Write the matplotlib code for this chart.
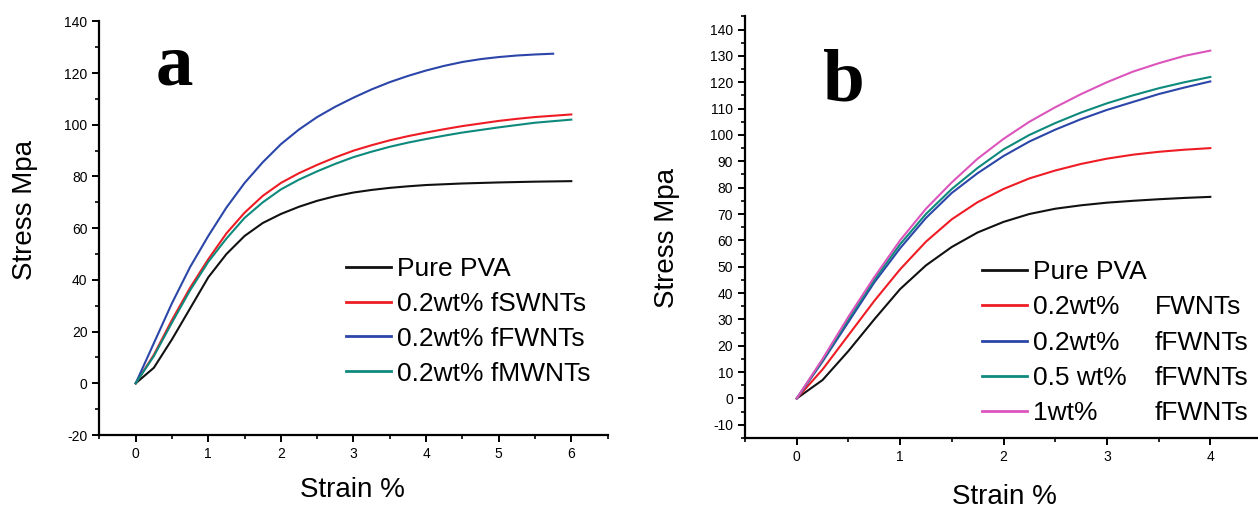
import matplotlib
matplotlib.use("Agg")
import matplotlib.pyplot as plt
from matplotlib.lines import Line2D
from matplotlib.ticker import MultipleLocator

# panel a: strain (%) vs stress (MPa)
strain_a = [0, 0.25, 0.5, 0.75, 1, 1.25, 1.5, 1.75, 2, 2.25, 2.5, 2.75, 3,
            3.25, 3.5, 3.75, 4, 4.25, 4.5, 4.75, 5, 5.25, 5.5, 5.75, 6]
pva_a = [0, 6, 17, 29, 41, 50, 57, 62, 65.5, 68.3, 70.6, 72.4, 73.8,
         74.8, 75.6, 76.2, 76.7, 77, 77.3, 77.5, 77.7, 77.85, 78, 78.1, 78.2]
fswnt_a = [0, 11, 24.5, 37, 48, 58, 66, 72.5, 77.5, 81.3, 84.5, 87.4, 90,
           92.1, 94, 95.6, 97, 98.3, 99.5, 100.5, 101.5, 102.3, 103, 103.5, 104]
fmwnt_a = [0, 10.5, 23.5, 36, 47, 56, 64, 70, 75, 78.8, 82, 84.9, 87.5,
           89.6, 91.5, 93.1, 94.5, 95.8, 97, 98, 99, 99.9, 100.8, 101.4, 102]
strain_a_fw = [0, 0.25, 0.5, 0.75, 1, 1.25, 1.5, 1.75, 2, 2.25, 2.5, 2.75, 3,
               3.25, 3.5, 3.75, 4, 4.25, 4.5, 4.75, 5, 5.25, 5.5, 5.75]
ffwnt_a = [0, 15.5, 31, 45, 57, 68, 77.5, 85.5, 92.5, 98.2, 103, 107, 110.5,
           113.7, 116.5, 118.9, 121, 122.8, 124.3, 125.4, 126.2, 126.8, 127.2, 127.5]

# panel b
strain_b = [0, 0.25, 0.5, 0.75, 1, 1.25, 1.5, 1.75, 2, 2.25, 2.5, 2.75, 3, 3.25, 3.5, 3.75, 4]
pva_b = [0, 7, 18, 30, 41.5, 50.5, 57.5, 63, 67, 70, 72, 73.3, 74.3, 75, 75.6, 76.1, 76.5]
fwnt02_b = [0, 11, 24, 37, 49, 59.5, 68, 74.5, 79.5, 83.5, 86.5, 89, 91, 92.5, 93.6, 94.4, 95]
ffwnt02_b = [0, 14, 29, 44, 57, 68.5, 78, 85.5, 92, 97.5, 102, 106, 109.5, 112.5, 115.5, 118, 120.3]
ffwnt05_b = [0, 14.5, 30, 45, 58.5, 70, 79.5, 87.5, 94.5, 100, 104.5, 108.5, 112, 115, 117.7, 120, 122]
ffwnt1_b = [0, 15, 31, 46, 60, 72, 82, 91, 98.5, 105, 110.5, 115.5, 120, 124, 127.2, 130, 132]

labels_a = ["Pure PVA", "0.2wt% fSWNTs", "0.2wt% fFWNTs", "0.2wt% fMWNTs"]
labels_b_left = ["Pure PVA", "0.2wt%", "0.2wt%", "0.5 wt%", "1wt%"]
labels_b_right = [" ", "FWNTs", "fFWNTs", "fFWNTs", "fFWNTs"]

BLACK = "#111111"
RED = "#ee1c24"
BLUE = "#2b46a8"
TEAL = "#0e8a7c"
PINK = "#dc55bc"

plt.rcParams.update(
    {
        "font.family": ["Liberation Sans", "DejaVu Sans"],
        "axes.unicode_minus": False,
        "axes.linewidth": 1.6,
        "xtick.labelsize": 10,
        "ytick.labelsize": 10,
        "xtick.major.size": 5,
        "ytick.major.size": 5,
        "xtick.minor.size": 3,
        "ytick.minor.size": 3,
        "xtick.major.width": 1.4,
        "ytick.major.width": 1.4,
        "xtick.minor.width": 1.2,
        "ytick.minor.width": 1.2,
    }
)

fig = plt.figure(figsize=(12.58, 5.08), dpi=100)
ax_a = fig.add_axes([0.0790, 0.1437, 0.404, 0.8142])
ax_b = fig.add_axes([0.5922, 0.1378, 0.411, 0.830])


def style_axes(ax, ylim, ymajor, yminor, xlim):
    ax.spines["top"].set_visible(False)
    ax.spines["right"].set_visible(False)
    ax.set_xlim(*xlim)
    ax.set_ylim(*ylim)
    ax.xaxis.set_major_locator(MultipleLocator(1))
    ax.xaxis.set_minor_locator(MultipleLocator(0.5))
    ax.yaxis.set_major_locator(MultipleLocator(ymajor))
    ax.yaxis.set_minor_locator(MultipleLocator(yminor))
    ax.set_xlabel("Strain %", fontsize=20)
    ax.set_ylabel("Stress Mpa", fontsize=20)
    ax.xaxis.label.set_va("center")
    ax.yaxis.label.set_va("center")


lw = 1.5
ax_a.plot(strain_a, pva_a, color=BLACK, lw=lw)
ax_a.plot(strain_a, fswnt_a, color=RED, lw=lw)
ax_a.plot(strain_a_fw, ffwnt_a, color=BLUE, lw=lw)
ax_a.plot(strain_a, fmwnt_a, color=TEAL, lw=lw)
style_axes(ax_a, (-20, 140), 20, 10, (-0.5, 6.5))
ax_a.set_yticks(range(-20, 141, 20))
ax_a.xaxis.set_label_coords(0.497, -0.133)
ax_a.yaxis.set_label_coords(-0.146, 0.544)

handles_a = [Line2D([], [], color=c, lw=2) for c in (BLACK, RED, BLUE, TEAL)]
fig.legend(
    handles_a, labels_a, loc="upper left", bbox_to_anchor=(0.275, 0.494),
    bbox_transform=fig.transFigure, frameon=False, fontsize=19,
    handlelength=1.7, handletextpad=0.23, labelspacing=0.41,
    borderpad=0, borderaxespad=0,
)

ax_b.plot(strain_b, pva_b, color=BLACK, lw=lw)
ax_b.plot(strain_b, fwnt02_b, color=RED, lw=lw)
ax_b.plot(strain_b, ffwnt02_b, color=BLUE, lw=lw)
ax_b.plot(strain_b, ffwnt05_b, color=TEAL, lw=lw)
ax_b.plot(strain_b, ffwnt1_b, color=PINK, lw=lw)
style_axes(ax_b, (-15, 145), 10, 5, (-0.5, 4.5))
ax_b.set_yticks(range(-10, 141, 10))
ax_b.xaxis.set_label_coords(0.501, -0.140)
ax_b.yaxis.set_label_coords(-0.151, 0.474)

handles_b = [Line2D([], [], color=c, lw=2) for c in (BLACK, RED, BLUE, TEAL, PINK)]
blank = [Line2D([], [], color="none") for _ in labels_b_right]
fig.legend(
    handles_b + blank, labels_b_left + labels_b_right, ncol=2,
    loc="upper left", bbox_to_anchor=(0.7806, 0.488),
    bbox_transform=fig.transFigure, frameon=False, fontsize=19,
    handlelength=1.7, handletextpad=0.23, labelspacing=0.43,
    columnspacing=-1.63, borderpad=0, borderaxespad=0,
)

fig.text(0.1387, 0.8327, "a", family="Liberation Serif", weight="bold",
         fontsize=54, ha="center", va="baseline")
fig.text(0.671, 0.803, "b", family="Liberation Serif", weight="bold",
         fontsize=54, ha="center", va="baseline")

fig.savefig("out.png", dpi=100)
